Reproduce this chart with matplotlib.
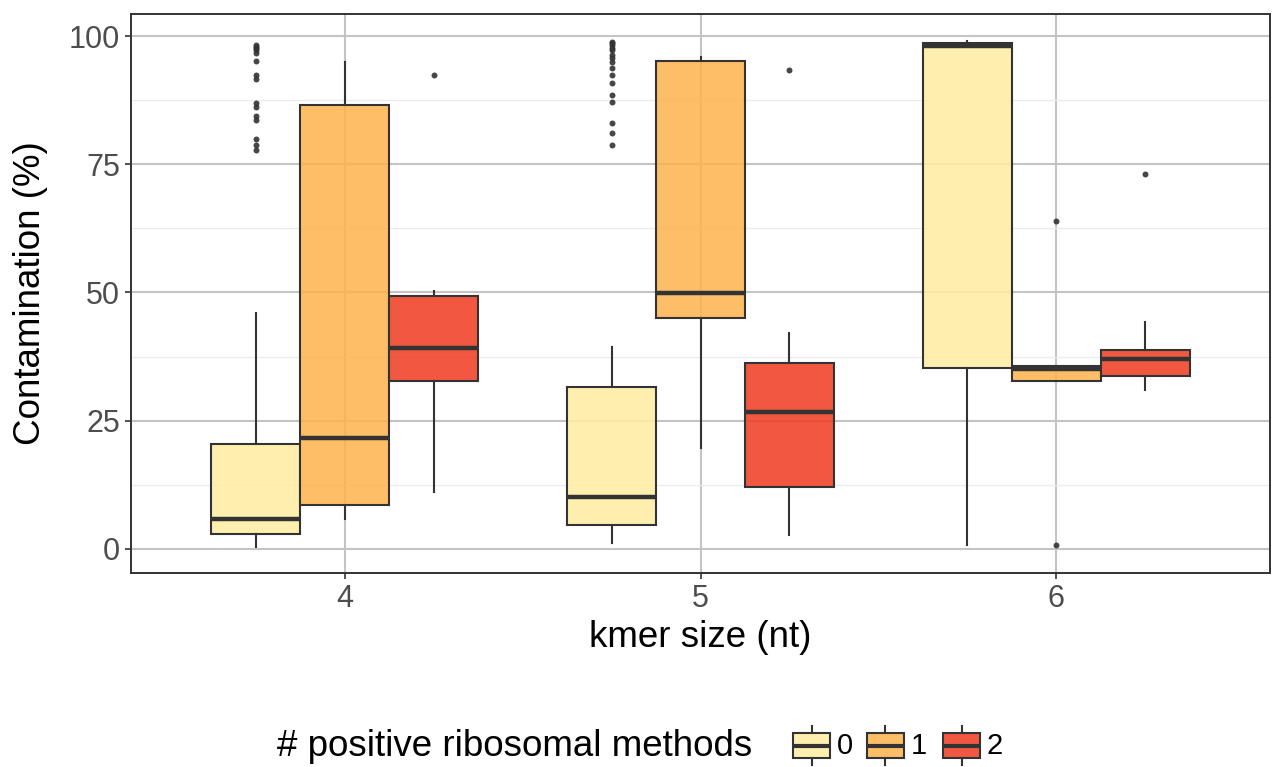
import matplotlib
matplotlib.use("Agg")
import matplotlib.pyplot as plt
from matplotlib.patches import Rectangle
from matplotlib.lines import Line2D

plt.rcParams['font.family'] = ['Liberation Sans', 'DejaVu Sans']

# ---- data ----
kmer_sizes = [4, 5, 6]
methods = ['0', '1', '2']
colors = ['#FFEDA0', '#FEB24C', '#F03B20']

# per method, values for kmer 4, 5, 6
whislo = {'0': [0.4, 1.2, 0.8], '1': [5.8, 19.7, 32.8], '2': [11.1, 2.7, 30.9]}
q1 = {'0': [3.0, 4.7, 35.3], '1': [8.6, 45.0, 32.8], '2': [32.7, 12.1, 33.8]}
med = {'0': [5.8, 10.1, 98.0], '1': [21.6, 49.9, 35.0], '2': [39.2, 26.7, 37.1]}
q3 = {'0': [20.5, 31.6, 98.6], '1': [86.5, 95.1, 35.6], '2': [49.3, 36.3, 38.8]}
whishi = {'0': [46.0, 39.4, 99.0], '1': [95.0, 95.9, 35.6], '2': [50.3, 42.1, 44.3]}
fliers = {
    '0': [[98.2, 97.9, 97.6, 97.2, 96.7, 95.1, 92.4, 91.6, 86.9, 86.2, 84.4, 83.6, 79.9, 78.8, 77.8],
          [98.9, 98.6, 98.2, 97.7, 97.3, 96.3, 95.7, 95.0, 93.7, 92.4, 90.8, 88.5, 87.2, 83.1, 81.0, 78.8],
          []],
    '1': [[], [], [63.9, 0.7]],
    '2': [[92.4], [93.4], [73.1]],
}
yticks = [0, 25, 50, 75, 100]

W, H = 1273, 767
fig = plt.figure(figsize=(W / 100, H / 100), dpi=100)
ax = fig.add_axes([131 / W, 1 - 573 / H, (1270 - 131) / W, (573 - 14) / H])

dark = '#333333'
box_w = 0.25
offsets = [-0.25, 0.0, 0.25]
for mi, m in enumerate(methods):
    stats = []
    for ki, k in enumerate(kmer_sizes):
        stats.append(dict(whislo=whislo[m][ki], q1=q1[m][ki], med=med[m][ki],
                          q3=q3[m][ki], whishi=whishi[m][ki], fliers=fliers[m][ki]))
    pos = [k + offsets[mi] for k in kmer_sizes]
    ax.bxp(stats, positions=pos, widths=box_w, patch_artist=True, showcaps=False,
           manage_ticks=False,
           boxprops=dict(facecolor=colors[mi], edgecolor=dark, linewidth=1.5),
           medianprops=dict(color=dark, linewidth=3.2, solid_capstyle='butt'),
           whiskerprops=dict(color=dark, linewidth=1.5),
           flierprops=dict(marker='o', markersize=4.3, markerfacecolor='#333333',
                           markeredgecolor='none', alpha=0.9),
           zorder=3)

for p in ax.patches:
    fc = p.get_facecolor()
    p.set_facecolor((fc[0], fc[1], fc[2], 0.85))

ax.set_xlim(3.4, 6.6)
ax.set_ylim(-4.7, 104.3)
ax.set_xticks(kmer_sizes)
ax.set_xticklabels([str(k) for k in kmer_sizes])
ax.set_yticks(yticks)
ax.set_yticks([12.5, 37.5, 62.5, 87.5], minor=True)
ax.set_xticks([], minor=True)
ax.grid(True, which='major', color='#C4C4C4', linewidth=1.5, zorder=0)
ax.grid(True, which='minor', axis='y', color='#EBEBEB', linewidth=0.9, zorder=0)
ax.set_axisbelow(True)
for s in ax.spines.values():
    s.set_color(dark)
    s.set_linewidth(1.4)
ax.tick_params(axis='both', which='major', length=4, width=1.2, color=dark,
               labelcolor='#4D4D4D', labelsize=22, pad=4)
ax.tick_params(axis='both', which='minor', length=0)
ax.set_xlabel('kmer size (nt)', fontsize=26.5, color='black', labelpad=4)
ax.set_ylabel('Contamination (%)', fontsize=26.5, color='black', labelpad=15)

# ---- legend (bottom) ----
def fx(x):
    return x / W

def fy(y):
    return 1 - y / H

fig.text(fx(277), fy(746), '# positive ribosomal methods', fontsize=26.5,
         ha='left', va='center', color='black')
key_x = [793, 867, 943]
lab_x = [837, 911, 987]
for i, m in enumerate(methods):
    x0 = key_x[i]
    kw, ky0, ky1 = 37, 733, 758
    cx = x0 + kw / 2
    fig.add_artist(Line2D([fx(cx), fx(cx)], [fy(726), fy(ky0)], color=dark, linewidth=1.5))
    fig.add_artist(Line2D([fx(cx), fx(cx)], [fy(ky1), fy(765)], color=dark, linewidth=1.5))
    fig.add_artist(Rectangle((fx(x0), fy(ky1)), kw / W, (ky1 - ky0) / H,
                             facecolor=colors[i], alpha=0.85, edgecolor='none'))
    fig.add_artist(Rectangle((fx(x0), fy(ky1)), kw / W, (ky1 - ky0) / H,
                             facecolor='none', edgecolor=dark, linewidth=1.5))
    fig.add_artist(Line2D([fx(x0), fx(x0 + kw)], [fy(745.5), fy(745.5)], color=dark,
                          linewidth=3.0, solid_capstyle='butt'))
    fig.text(fx(lab_x[i]), fy(746), m, fontsize=21, ha='left', va='center', color='black')

fig.savefig('out.png', dpi=100, facecolor='white')
